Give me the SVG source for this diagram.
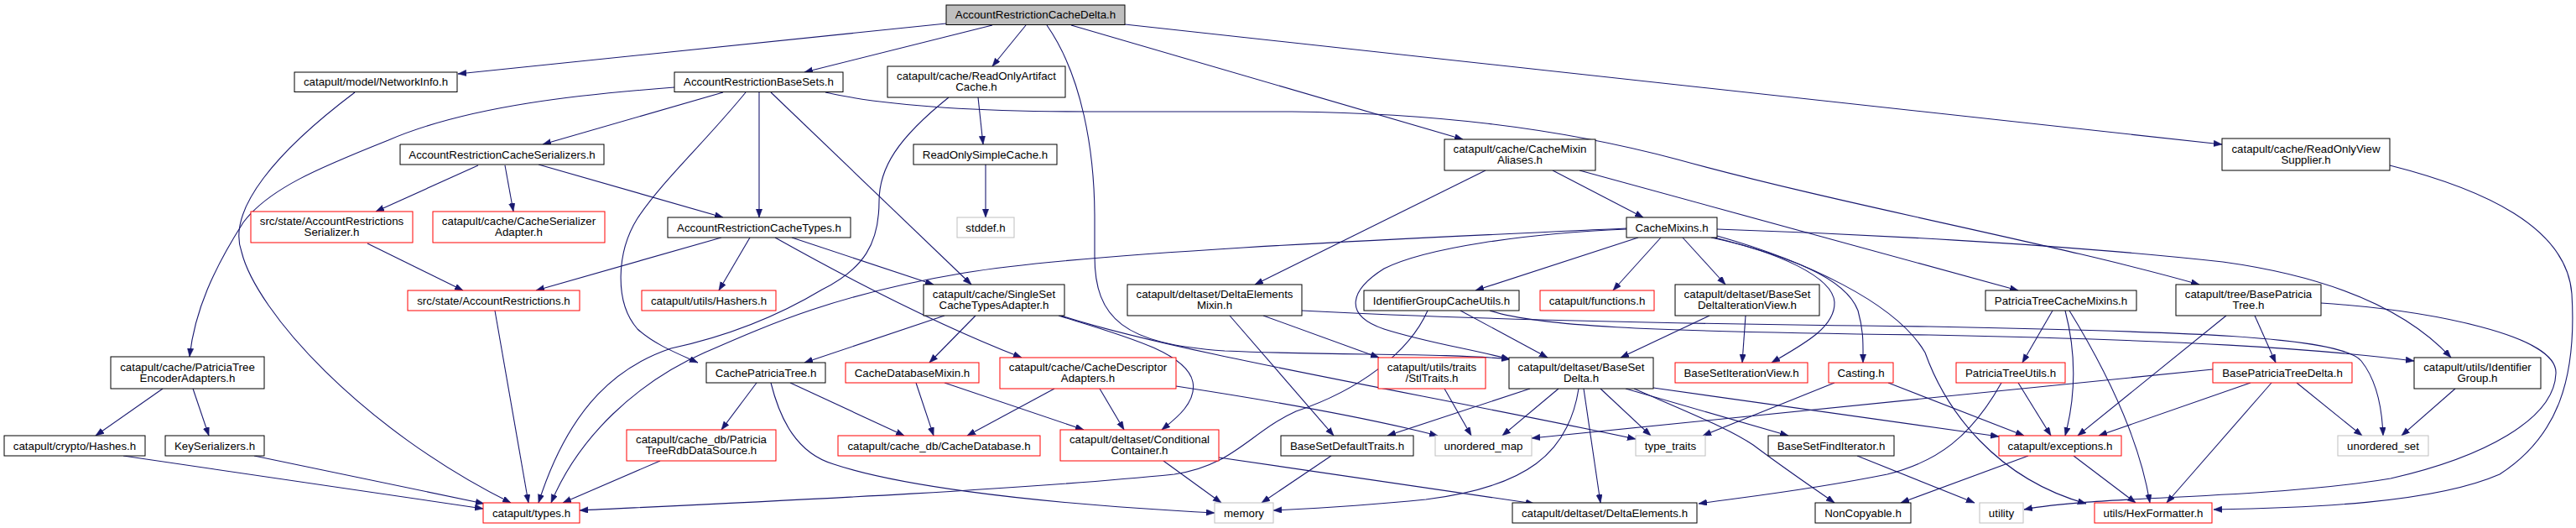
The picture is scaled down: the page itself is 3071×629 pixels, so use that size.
<svg xmlns="http://www.w3.org/2000/svg" width="3071" height="629" viewBox="0 0 3071 629">
<style>
rect{fill:#fff;stroke:#000;stroke-width:1}
rect.r{stroke:#ff0000}
rect.g{stroke:#bfbfbf}
rect.root{fill:#bfbfbf}
text{font-family:"Liberation Sans",Arial,Helvetica,sans-serif;font-size:13.3px;text-anchor:middle;fill:#000}
#edges path{fill:none;stroke:#191970;stroke-width:1.1;marker-end:url(#ah)}
</style>
<defs>
<marker id="ah" markerUnits="userSpaceOnUse" markerWidth="11" markerHeight="8" refX="10" refY="3.7" orient="auto">
<path d="M0,0 L10,3.7 L0,7.4 z" fill="#191970" stroke="#191970" stroke-width="0.5"/>
</marker>
</defs>
<rect x="0" y="0" width="3071" height="629" style="fill:#fff;stroke:none"/>
<g id="edges">
<path d="M1128,28 L546,88"/>
<path d="M1183,30 L959,86"/>
<path d="M1223,30 L1183,79"/>
<path d="M1248,30 C1290,90 1305,180 1305,260 L1305,305 C1305,380 1340,410 1460,418 C1600,424 1720,420 1800,428"/>
<path d="M1277,30 L1744,166"/>
<path d="M1341,29 L2649,172"/>
<path d="M862,110 L647,172"/>
<path d="M804,104 C700,112 560,125 463,167 C380,200 320,225 290,265 C255,320 232,370 226,425"/>
<path d="M905,110 L905,259"/>
<path d="M889,110 C840,170 790,215 760,260 C735,300 732,360 760,392 C780,410 805,420 832,432"/>
<path d="M919,110 L1158,339"/>
<path d="M984,110 C1050,125 1150,133 1300,133 L1540,133 C1700,135 1850,150 2000,190 C2200,245 2450,290 2622,339"/>
<path d="M1166,116 L1172,172"/>
<path d="M1131,116 C1070,165 1048,200 1048,240 C1048,290 1030,320 980,345 C930,375 870,400 800,415 C740,435 680,480 642,599"/>
<path d="M1175,196 L1175,259"/>
<path d="M570,197 L448,252"/>
<path d="M602,197 L612,252"/>
<path d="M642,196 L862,259"/>
<path d="M438,290 L552,346"/>
<path d="M860,283 L639,346"/>
<path d="M894,283 L857,346"/>
<path d="M924,283 C990,320 1100,380 1218,426"/>
<path d="M944,283 L1113,339"/>
<path d="M1851,203 L1959,259"/>
<path d="M1771,203 L1496,339"/>
<path d="M1883,203 L2406,346"/>
<path d="M2849,197 C2960,225 3060,270 3066,350 C3072,450 3050,520 2980,565 C2900,600 2750,605 2639,607"/>
<path d="M1953,283 L1759,346"/>
<path d="M1980,283 L1923,346"/>
<path d="M2006,283 L2057,339"/>
<path d="M2040,283 C2120,300 2185,330 2187,360 C2188,390 2150,410 2112,432"/>
<path d="M2044,283 C2130,305 2200,330 2215,370 C2222,395 2221,410 2221,432"/>
<path d="M2047,281 C2150,310 2260,360 2295,420 C2320,490 2380,570 2487,600"/>
<path d="M2047,273 C2200,278 2450,290 2650,312 C2780,330 2870,370 2922,426"/>
<path d="M1939,272 C1700,283 1300,300 1150,325 C1000,350 920,385 840,420 C760,455 690,520 657,599"/>
<path d="M1939,273 C1820,278 1700,295 1650,320 C1610,345 1600,375 1650,392 C1700,408 1750,415 1800,428"/>
<path d="M423,110 C330,180 270,250 288,300 C305,370 430,510 609,599"/>
<path d="M590,370 L630,599"/>
<path d="M1126,376 L959,432"/>
<path d="M1163,376 L1108,432"/>
<path d="M1262,376 C1340,400 1415,420 1422,455 C1427,480 1400,500 1385,512"/>
<path d="M1265,376 C1400,420 1700,470 1950,523"/>
<path d="M1506,376 L1644,426"/>
<path d="M1466,376 L1590,519"/>
<path d="M1552,370 C1700,378 1900,385 2300,389 C2600,395 2790,400 2815,430 C2835,455 2840,490 2841,519"/>
<path d="M1741,370 L1845,426"/>
<path d="M1702,370 C1680,420 1620,465 1545,490 C1490,515 1470,555 1400,565 C1200,585 900,598 691,608"/>
<path d="M1776,370 C1830,388 1950,395 2300,399 C2600,405 2760,415 2878,430"/>
<path d="M2038,376 L1932,426"/>
<path d="M2081,376 L2077,432"/>
<path d="M2447,370 L2411,432"/>
<path d="M2462,370 C2475,420 2475,470 2462,519"/>
<path d="M2467,370 C2510,440 2550,520 2563,599"/>
<path d="M2654,376 L2477,519"/>
<path d="M2688,376 L2713,432"/>
<path d="M2767,361 C2900,370 3050,400 3047,445 C3045,500 2960,545 2850,570 C2700,595 2500,590 2413,607"/>
<path d="M194,463 L114,519"/>
<path d="M230,463 L249,519"/>
<path d="M902,456 L860,512"/>
<path d="M942,456 L1078,519"/>
<path d="M919,456 C930,500 950,540 994,553 C1060,575 1200,598 1448,611"/>
<path d="M1092,456 L1113,519"/>
<path d="M1126,456 L1292,512"/>
<path d="M1257,463 L1153,519"/>
<path d="M1311,463 L1340,512"/>
<path d="M1402,460 C1500,475 1620,495 1714,519"/>
<path d="M1722,463 L1754,519"/>
<path d="M1824,463 L1654,519"/>
<path d="M1858,463 L1791,519"/>
<path d="M1882,463 C1870,540 1820,580 1700,595 C1620,603 1560,606 1518,608"/>
<path d="M1888,463 L1908,599"/>
<path d="M1908,463 L1968,519"/>
<path d="M1938,463 L2132,519"/>
<path d="M1948,463 C2010,490 2060,510 2090,530 C2130,560 2160,580 2187,599"/>
<path d="M1971,462 L2383,520"/>
<path d="M2187,456 L2030,519"/>
<path d="M2251,456 L2413,519"/>
<path d="M2406,456 L2445,519"/>
<path d="M2386,456 C2350,520 2310,550 2250,565 C2150,585 2080,592 2025,600"/>
<path d="M2638,440 L1826,522"/>
<path d="M2683,456 L2502,519"/>
<path d="M2708,456 L2583,599"/>
<path d="M2738,456 L2816,519"/>
<path d="M2927,463 L2863,519"/>
<path d="M147,543 L576,606"/>
<path d="M303,543 L577,600"/>
<path d="M787,549 L671,599"/>
<path d="M1387,549 L1456,599"/>
<path d="M1453,545 L1829,600"/>
<path d="M1587,543 L1504,599"/>
<path d="M2214,543 L2354,599"/>
<path d="M2418,543 L2266,599"/>
<path d="M2472,543 L2546,599"/>
</g>
<g id="n_delta"><rect class="root" x="1128" y="6" width="213" height="23.5"/><text x="1234.5" y="22.3">AccountRestrictionCacheDelta.h</text></g>
<g id="n_networkinfo"><rect x="351" y="86" width="194" height="23.5"/><text x="448" y="102.3">catapult/model/NetworkInfo.h</text></g>
<g id="n_basesets"><rect x="804" y="86" width="201" height="23.5"/><text x="904.5" y="102.3">AccountRestrictionBaseSets.h</text></g>
<g id="n_artifact"><rect x="1058" y="79" width="212" height="37"/><text x="1164" y="95">catapult/cache/ReadOnlyArtifact</text><text x="1164" y="108.4">Cache.h</text></g>
<g id="n_serializers"><rect x="477" y="172" width="243" height="24"/><text x="598.5" y="188.5">AccountRestrictionCacheSerializers.h</text></g>
<g id="n_simplecache"><rect x="1089" y="172" width="171" height="24"/><text x="1174.5" y="188.5">ReadOnlySimpleCache.h</text></g>
<g id="n_mixinaliases"><rect x="1722" y="166" width="180" height="37"/><text x="1812" y="182">catapult/cache/CacheMixin</text><text x="1812" y="195.4">Aliases.h</text></g>
<g id="n_viewsupplier"><rect x="2649" y="165" width="200" height="38"/><text x="2749" y="181.5">catapult/cache/ReadOnlyView</text><text x="2749" y="194.9">Supplier.h</text></g>
<g id="n_arserializer"><rect class="r" x="299" y="252" width="193" height="37"/><text x="395.5" y="268">src/state/AccountRestrictions</text><text x="395.5" y="281.4">Serializer.h</text></g>
<g id="n_serializeradapter"><rect class="r" x="516" y="252" width="205" height="37"/><text x="618.5" y="268">catapult/cache/CacheSerializer</text><text x="618.5" y="281.4">Adapter.h</text></g>
<g id="n_cachetypes"><rect x="796" y="259" width="218" height="24"/><text x="905" y="275.5">AccountRestrictionCacheTypes.h</text></g>
<g id="n_stddef"><rect class="g" x="1141" y="259" width="68" height="24"/><text x="1175" y="275.5">stddef.h</text></g>
<g id="n_cachemixins"><rect x="1939" y="259" width="108" height="24"/><text x="1993" y="275.5">CacheMixins.h</text></g>
<g id="n_restrictions"><rect class="r" x="486" y="346" width="205" height="24"/><text x="588.5" y="362.5">src/state/AccountRestrictions.h</text></g>
<g id="n_hashers"><rect class="r" x="765" y="346" width="160" height="24"/><text x="845" y="362.5">catapult/utils/Hashers.h</text></g>
<g id="n_singleset"><rect x="1101" y="339" width="168" height="37"/><text x="1185" y="355">catapult/cache/SingleSet</text><text x="1185" y="368.4">CacheTypesAdapter.h</text></g>
<g id="n_deltaelementsmixin"><rect x="1344" y="339" width="208" height="37"/><text x="1448" y="355">catapult/deltaset/DeltaElements</text><text x="1448" y="368.4">Mixin.h</text></g>
<g id="n_idgroupcacheutils"><rect x="1626" y="346" width="185" height="24"/><text x="1718.5" y="362.5">IdentifierGroupCacheUtils.h</text></g>
<g id="n_functions"><rect class="r" x="1836" y="346" width="136" height="24"/><text x="1904" y="362.5">catapult/functions.h</text></g>
<g id="n_bsdeltaiterview"><rect x="1997" y="339" width="172" height="37"/><text x="2083" y="355">catapult/deltaset/BaseSet</text><text x="2083" y="368.4">DeltaIterationView.h</text></g>
<g id="n_ptcachemixins"><rect x="2367" y="346" width="180" height="24"/><text x="2457" y="362.5">PatriciaTreeCacheMixins.h</text></g>
<g id="n_basepatriciatree"><rect x="2594" y="339" width="173" height="37"/><text x="2680.5" y="355">catapult/tree/BasePatricia</text><text x="2680.5" y="368.4">Tree.h</text></g>
<g id="n_ptencoder"><rect x="132" y="425" width="183" height="38"/><text x="223.5" y="441.5">catapult/cache/PatriciaTree</text><text x="223.5" y="454.9">EncoderAdapters.h</text></g>
<g id="n_cachepatriciatree"><rect x="842" y="432" width="142" height="24"/><text x="913" y="448.5">CachePatriciaTree.h</text></g>
<g id="n_cachedbmixin"><rect class="r" x="1008" y="432" width="159" height="24"/><text x="1087.5" y="448.5">CacheDatabaseMixin.h</text></g>
<g id="n_descriptoradapters"><rect class="r" x="1192" y="426" width="210" height="37"/><text x="1297" y="442">catapult/cache/CacheDescriptor</text><text x="1297" y="455.4">Adapters.h</text></g>
<g id="n_stltraits"><rect class="r" x="1643" y="426" width="128" height="37"/><text x="1707" y="442">catapult/utils/traits</text><text x="1707" y="455.4">/StlTraits.h</text></g>
<g id="n_basesetdelta"><rect x="1799" y="426" width="172" height="37"/><text x="1885" y="442">catapult/deltaset/BaseSet</text><text x="1885" y="455.4">Delta.h</text></g>
<g id="n_bsiterview"><rect class="r" x="1997" y="432" width="158" height="24"/><text x="2076" y="448.5">BaseSetIterationView.h</text></g>
<g id="n_casting"><rect class="r" x="2180" y="432" width="77" height="24"/><text x="2218.5" y="448.5">Casting.h</text></g>
<g id="n_ptutils"><rect class="r" x="2332" y="432" width="130" height="24"/><text x="2397" y="448.5">PatriciaTreeUtils.h</text></g>
<g id="n_bptdelta"><rect class="r" x="2638" y="432" width="166" height="24"/><text x="2721" y="448.5">BasePatriciaTreeDelta.h</text></g>
<g id="n_idgroup"><rect x="2878" y="426" width="151" height="37"/><text x="2953.5" y="442">catapult/utils/Identifier</text><text x="2953.5" y="455.4">Group.h</text></g>
<g id="n_hashes"><rect x="5" y="519" width="168" height="24"/><text x="89" y="535.5">catapult/crypto/Hashes.h</text></g>
<g id="n_keyserializers"><rect x="197" y="519" width="118" height="24"/><text x="256" y="535.5">KeySerializers.h</text></g>
<g id="n_rdbdatasource"><rect class="r" x="747" y="512" width="178" height="37"/><text x="836" y="528">catapult/cache_db/Patricia</text><text x="836" y="541.4">TreeRdbDataSource.h</text></g>
<g id="n_cachedatabase"><rect class="r" x="999" y="519" width="241" height="24"/><text x="1119.5" y="535.5">catapult/cache_db/CacheDatabase.h</text></g>
<g id="n_conditional"><rect class="r" x="1264" y="512" width="189" height="37"/><text x="1358.5" y="528">catapult/deltaset/Conditional</text><text x="1358.5" y="541.4">Container.h</text></g>
<g id="n_defaulttraits"><rect x="1527" y="519" width="158" height="24"/><text x="1606" y="535.5">BaseSetDefaultTraits.h</text></g>
<g id="n_unordered_map"><rect class="g" x="1711" y="519" width="115" height="24"/><text x="1768.5" y="535.5">unordered_map</text></g>
<g id="n_type_traits"><rect class="g" x="1950" y="519" width="83" height="24"/><text x="1991.5" y="535.5">type_traits</text></g>
<g id="n_finditerator"><rect x="2108" y="519" width="150" height="24"/><text x="2183" y="535.5">BaseSetFindIterator.h</text></g>
<g id="n_exceptions"><rect class="r" x="2383" y="519" width="146" height="24"/><text x="2456" y="535.5">catapult/exceptions.h</text></g>
<g id="n_unordered_set"><rect class="g" x="2787" y="519" width="108" height="24"/><text x="2841" y="535.5">unordered_set</text></g>
<g id="n_types"><rect class="r" x="576" y="599" width="115" height="24"/><text x="633.5" y="615.5">catapult/types.h</text></g>
<g id="n_memory"><rect class="g" x="1448" y="599" width="70" height="24"/><text x="1483" y="615.5">memory</text></g>
<g id="n_deltaelements"><rect x="1803" y="599" width="220" height="24"/><text x="1913" y="615.5">catapult/deltaset/DeltaElements.h</text></g>
<g id="n_noncopyable"><rect x="2164" y="599" width="114" height="24"/><text x="2221" y="615.5">NonCopyable.h</text></g>
<g id="n_utility"><rect class="g" x="2360" y="599" width="52" height="24"/><text x="2386" y="615.5">utility</text></g>
<g id="n_hexformatter"><rect class="r" x="2497" y="599" width="140" height="24"/><text x="2567" y="615.5">utils/HexFormatter.h</text></g>
</svg>
